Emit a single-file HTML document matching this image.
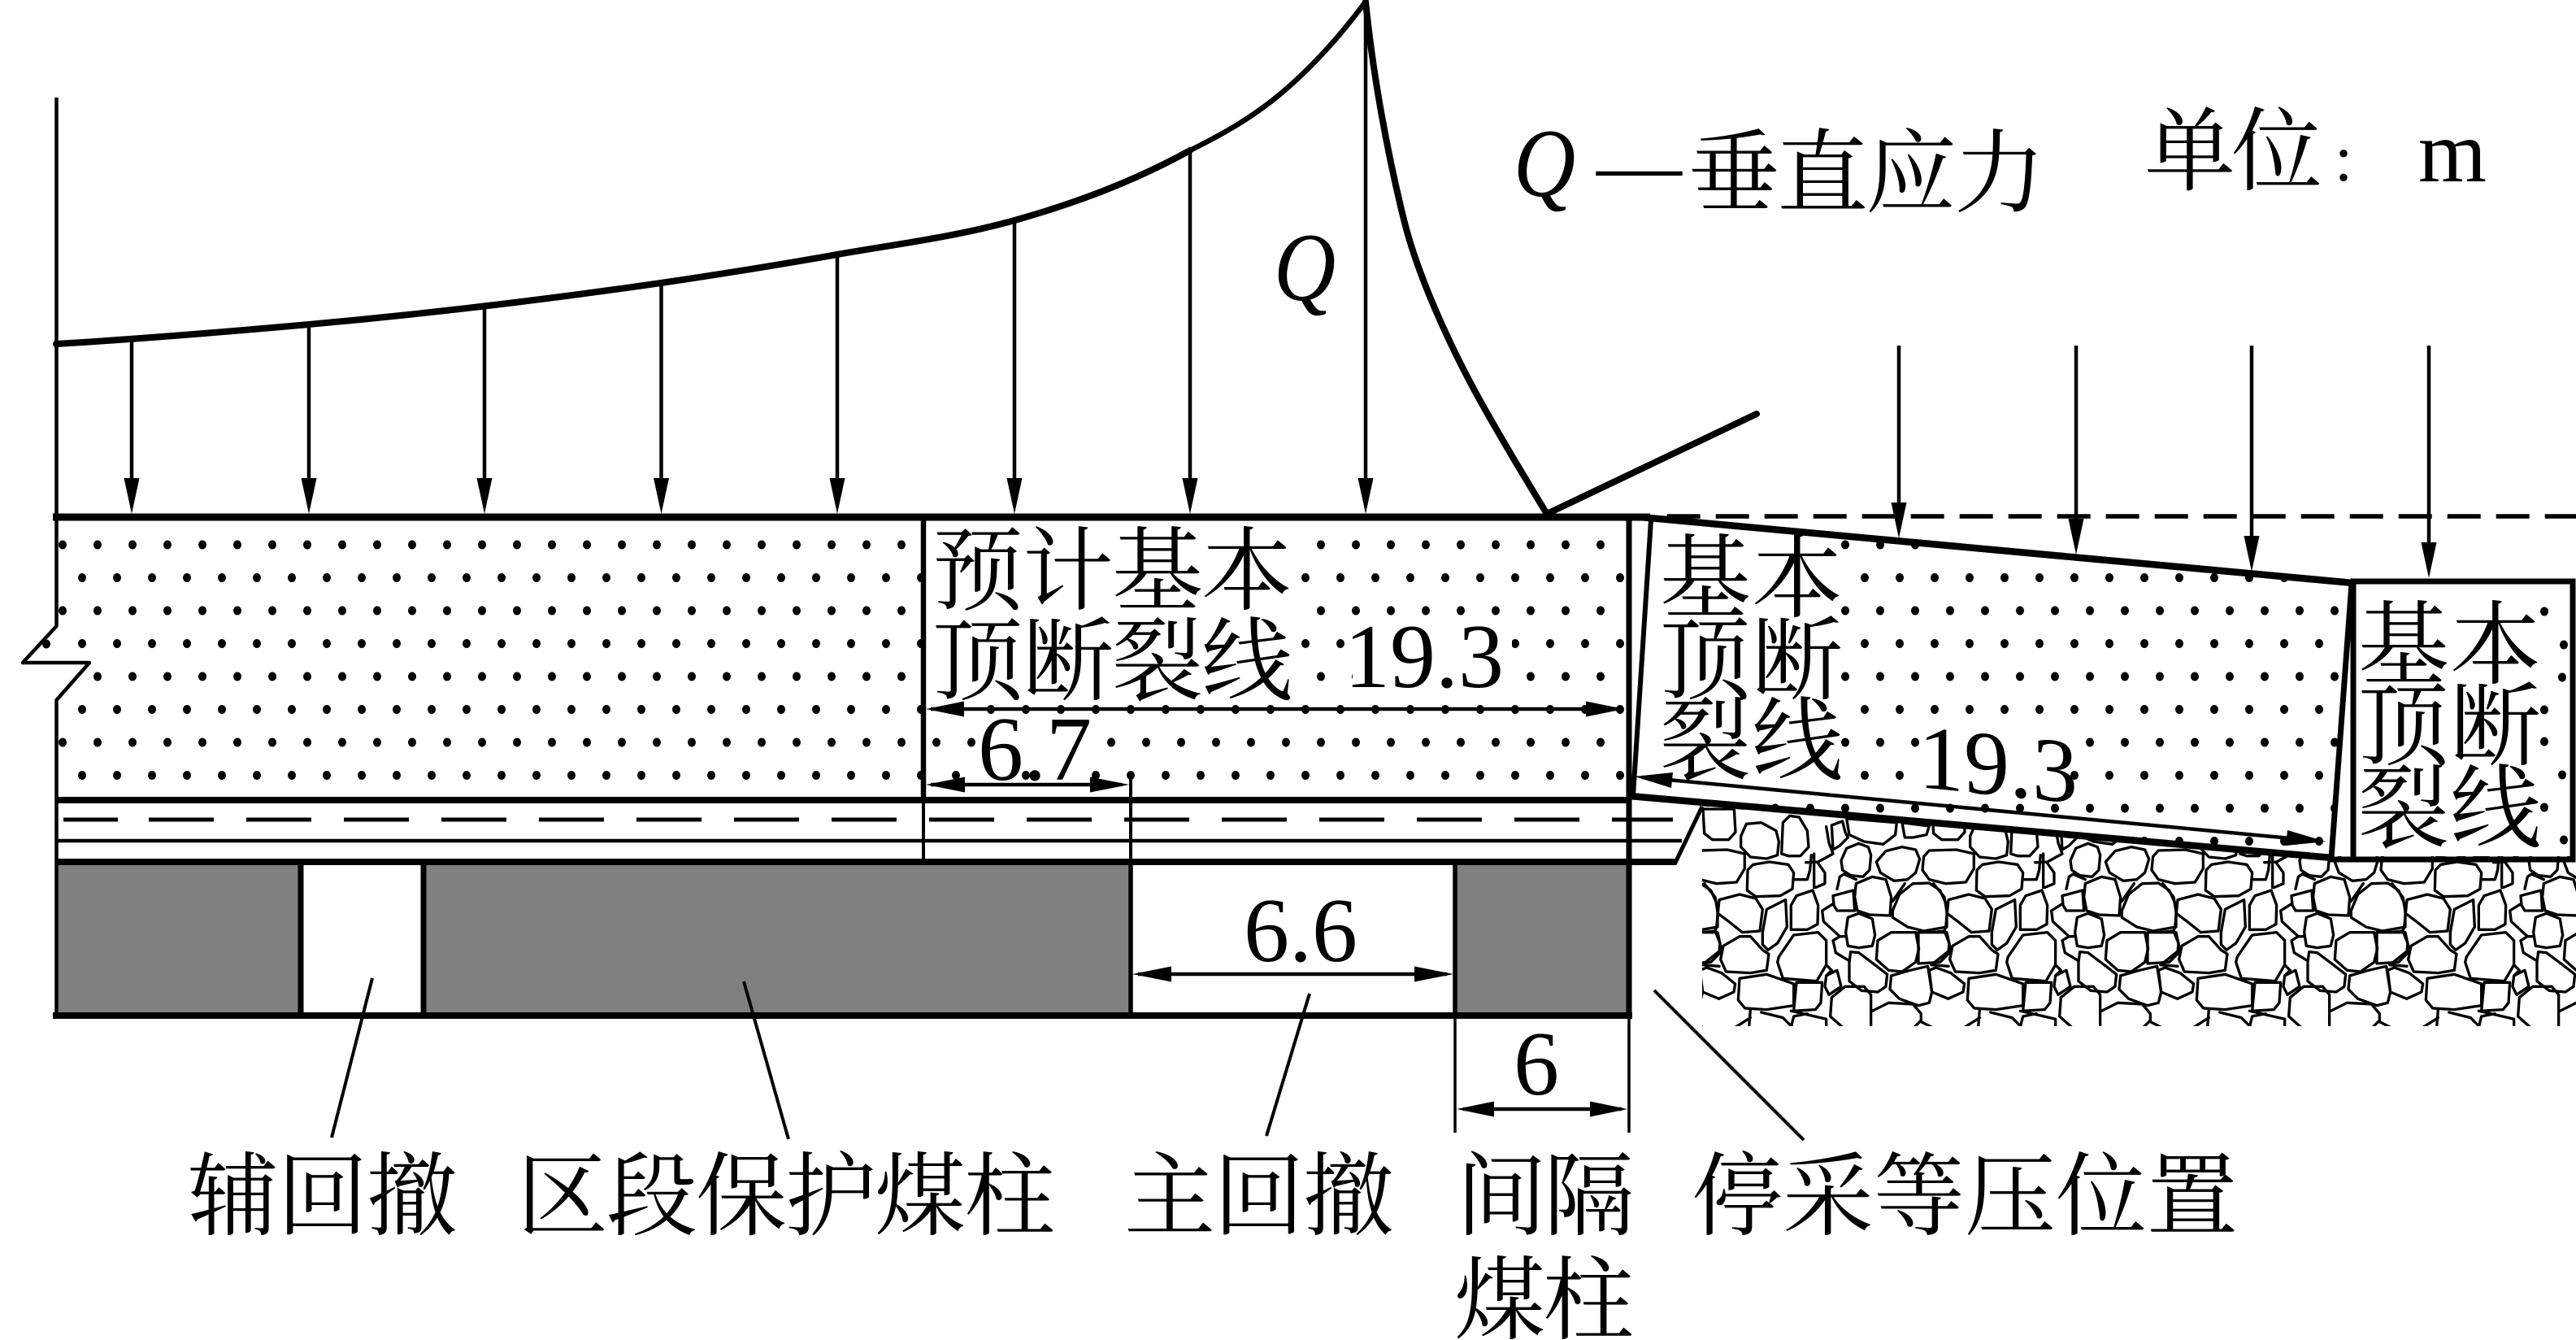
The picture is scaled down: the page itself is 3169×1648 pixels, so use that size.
<!DOCTYPE html>
<html><head><meta charset="utf-8">
<style>
html,body{margin:0;padding:0;background:#fff}
svg{display:block}
.c{font-family:"Liberation Serif","Noto Serif CJK SC",serif;font-size:112px;fill:#000}
.n{font-family:"Liberation Serif",serif;font-size:112px;fill:#000}
.q{font-family:"Liberation Serif",serif;font-style:italic;font-size:110px;fill:#000}
</style></head><body>
<svg xmlns="http://www.w3.org/2000/svg" width="3169" height="1648" viewBox="0 0 3169 1648">
<defs>
<pattern id="dots" patternUnits="userSpaceOnUse" x="65" y="660" width="43" height="81">
<ellipse cx="12" cy="10" rx="5" ry="5.5"/><ellipse cx="36" cy="50.5" rx="5" ry="5.5"/>
</pattern>
<clipPath id="blk2"><polygon points="2030,640 2895,715 2871,1058 2007,984"/></clipPath>
<clipPath id="grav"><polygon points="2094,985 2869,1053 3169,1053 3169,1262 2094,1262"/></clipPath>
<g id="tile" fill="none" stroke="#000" stroke-width="10" stroke-linejoin="round" stroke-linecap="round">
<polygon points="15,45 130,45 135,130 110,158 50,158 20,135"/>
<polygon points="155,145 175,100 230,95 285,125 295,165 290,215 250,228 190,222 155,185"/>
<polygon points="305,210 310,95 335,70 370,75 400,125 405,185 375,218 330,218"/>
<polygon points="490,105 530,90 540,130 550,150 520,180 495,195"/>
<polygon points="545,80 730,95 725,140 680,175 610,165 555,140"/>
<polygon points="750,95 850,108 840,140 790,150 760,150"/>
<polygon points="525,235 545,190 590,172 625,185 635,215 630,270 605,295 560,290 530,270"/>
<polygon points="655,240 690,200 750,185 800,195 815,230 800,280 770,305 720,310 670,280"/>
<polygon points="830,220 850,198 950,195 1015,210 1015,265 985,315 910,320 850,305 825,270"/>
<polygon points="180,270 200,250 260,240 330,250 350,280 345,340 300,365 210,368 178,345"/>
<polyline points="355,305 400,305 410,270 415,215"/>
<polyline points="395,242 440,240 495,210 480,170 470,110"/>
<polyline points="425,210 425,335"/>
<polyline points="440,245 465,280 465,320 430,335"/>
<polyline points="510,340 520,295 535,285 580,305"/>
<polygon points="495,365 570,345 575,420 510,420 498,400"/>
<polygon points="580,320 640,295 690,305 710,370 705,438 630,435 585,420 575,370"/>
<polygon points="715,420 740,360 790,320 850,318 890,345 915,400 915,480 830,495 770,480 715,445"/>
<polyline points="715,385 760,320"/>
<polygon points="75,380 150,360 210,375 235,415 225,495 160,500 110,460 70,430"/>
<polygon points="235,500 250,415 320,380 325,480 290,540 255,565 235,545"/>
<polygon points="340,400 360,365 420,345 440,400 438,470 400,490 340,490"/>
<polygon points="550,445 590,430 640,450 650,510 640,550 590,557 550,550 542,500"/>
<polyline points="495,395 455,420 460,460 520,515 540,515"/>
<polygon points="660,530 710,500 800,500 812,560 800,610 750,645 700,640 655,600"/>
<polygon points="810,500 915,500 930,570 890,610 810,615"/>
<polygon points="90,550 150,515 190,515 235,565 258,580 250,640 190,650 100,645 80,600"/>
<polygon points="295,590 350,510 440,500 470,530 470,620 435,680 310,670 290,610"/>
<polygon points="555,610 560,572 590,575 650,620 695,655 690,700 660,720 600,715 555,680"/>
<polyline points="520,515 495,530 505,575 555,605"/>
<polygon points="150,670 250,655 350,690 350,770 250,785 170,780 145,750"/>
<polygon points="360,685 455,685 450,760 430,785 350,790"/>
<polygon points="470,660 510,640 525,700 480,730 465,700"/>
<polygon points="710,660 780,640 845,625 860,720 850,760 810,770 740,745 705,710"/>
<polygon points="850,640 875,630 930,650 980,690 975,720 920,745 860,720"/>
<polyline points="635,850 635,730 610,700 540,700 490,740 485,810 530,850"/>
<polyline points="640,790 700,760 790,765 820,800 820,830 860,850"/>
<polyline points="820,825 795,850"/>
<polyline points="12,620 75,625"/>
<polyline points="12,500 60,495 78,540 75,570 12,620"/>
<polyline points="20,320 60,370 70,430 65,480 60,495"/>
<polyline points="190,785 185,850"/>
<polyline points="135,850 190,815"/>
<polyline points="230,795 310,815 345,850"/>
<polyline points="340,790 470,820 470,850"/>
<polyline points="340,850 350,810 400,800"/>
<polyline points="470,620 490,640 470,660"/>
</g>
</defs>
<rect width="3169" height="1648" fill="#fff"/>

<!-- dots -->
<rect x="72" y="640" width="1930" height="341" fill="url(#dots)"/>
<ellipse cx="57" cy="792" rx="5" ry="5.5"/>
<rect x="72" y="818" width="38" height="30" fill="#fff"/>
<rect x="1140" y="640" width="457" height="226" fill="#fff"/>
<rect x="1655" y="775" width="205" height="30" fill="#fff"/>
<rect x="1664" y="815" width="198" height="32" fill="#fff"/>
<rect x="1200" y="895" width="160" height="32" fill="#fff"/>
<rect x="1205" y="938" width="40" height="26" fill="#fff"/>
<rect x="1285" y="938" width="45" height="26" fill="#fff"/>
<rect x="2000" y="640" width="8" height="345" fill="#fff"/>
<g clip-path="url(#blk2)">
<rect x="2000" y="640" width="900" height="420" fill="url(#dots)"/>
<rect x="2000" y="640" width="262" height="334" fill="#fff"/>
<rect x="2375" y="900" width="178" height="28" fill="#fff"/>
<rect x="2360" y="940" width="175" height="28" fill="#fff"/>
</g>
<g>
<ellipse cx="3130" cy="752" rx="5" ry="5.5"/><ellipse cx="3154" cy="793" rx="5" ry="5.5"/>
<ellipse cx="3152" cy="833" rx="5" ry="5.5"/><ellipse cx="3130" cy="873" rx="5" ry="5.5"/>
<ellipse cx="3130" cy="912" rx="5" ry="5.5"/><ellipse cx="3152" cy="953" rx="5" ry="5.5"/>
<ellipse cx="3130" cy="993" rx="5" ry="5.5"/><ellipse cx="3154" cy="1033" rx="5" ry="5.5"/>
</g>

<!-- gravel -->
<g clip-path="url(#grav)">
<use href="#tile" transform="translate(1808,980) scale(.3333)"/>
<use href="#tile" transform="translate(2090,980) scale(.3333)"/>
<use href="#tile" transform="translate(2372,980) scale(.3333)"/>
<use href="#tile" transform="translate(2654,980) scale(.3333)"/>
<use href="#tile" transform="translate(2936,980) scale(.3333)"/>
</g>

<!-- gray pillars -->
<rect x="69" y="1060" width="301" height="189" fill="#808080"/>
<rect x="521" y="1060" width="870" height="189" fill="#808080"/>
<rect x="1790" y="1060" width="214" height="189" fill="#808080"/>

<!-- stress curve -->
<g fill="none" stroke="#000" stroke-linecap="round" stroke-linejoin="round">
<path stroke-width="8" d="M69,423 C172.7,416.8 276.3,408.3 380,399 C524,386 669,368.9 813,348 C885,337.5 958,325.6 1030,313 C1103,300.2 1175,291.4 1248,271 C1320,250.8 1392,224.6 1464,185"/>
<path stroke-width="6.5" d="M1464,185 C1502,166 1539,146 1577,114 C1611,85 1646,48 1680,2"/>
<path stroke-width="8" d="M1680,2 C1689,92 1707,190 1728,274 C1737,309 1750,344 1765,379 C1780,414 1797,449 1816,484 C1843,533 1873,583 1903,632"/>
<path stroke-width="8" d="M1903,632 L2161,509"/>
</g>

<!-- main lines -->
<g stroke="#000" fill="none">
<line x1="69.5" y1="120" x2="69.5" y2="638" stroke-width="4.5"/>
<line x1="65" y1="636" x2="2030" y2="636" stroke-width="9"/>
<polyline points="69.5,636 69.5,770 28,815 110,815 69.5,861 69.5,1249" stroke-width="4.5" stroke-linejoin="round"/>
<line x1="69" y1="984" x2="2007" y2="984" stroke-width="8"/>
<line x1="78" y1="1008" x2="145" y2="1008" stroke-width="5"/>
<line x1="183" y1="1008" x2="2058" y2="1008" stroke-width="5" stroke-dasharray="80 40"/>
<line x1="69" y1="1034" x2="2069" y2="1034" stroke-width="4.5"/>
<line x1="69" y1="1060" x2="2062" y2="1060" stroke-width="8"/>
<polyline points="2060,1063 2094,992" stroke-width="5"/>
<line x1="65" y1="1249" x2="2008" y2="1249" stroke-width="8"/>
<line x1="370" y1="1060" x2="370" y2="1249" stroke-width="7"/>
<line x1="521" y1="1060" x2="521" y2="1249" stroke-width="7"/>
<line x1="1136" y1="636" x2="1136" y2="984" stroke-width="6.5"/>
<line x1="1136" y1="984" x2="1136" y2="1060" stroke-width="4"/>
<line x1="1391" y1="952" x2="1391" y2="1060" stroke-width="4"/>
<line x1="1391" y1="1060" x2="1391" y2="1249" stroke-width="5.5"/>
<line x1="1790" y1="1060" x2="1790" y2="1249" stroke-width="5.5"/>
<line x1="2004" y1="636" x2="2004" y2="1249" stroke-width="7"/>
<line x1="1790" y1="1249" x2="1790" y2="1393" stroke-width="3.5"/>
<line x1="2004" y1="1249" x2="2004" y2="1393" stroke-width="3.5"/>
<!-- tilted block -->
<line x1="2018" y1="636" x2="2895" y2="717" stroke-width="8.5"/>
<line x1="2031" y1="640" x2="2009" y2="979" stroke-width="6"/>
<line x1="2005" y1="979" x2="2869" y2="1055" stroke-width="8.5"/>
<line x1="2893" y1="718" x2="2868" y2="1055" stroke-width="7"/>
<!-- right block -->
<rect x="2895" y="715" width="270" height="342" stroke-width="7"/>
<line x1="2865" y1="1057" x2="2900" y2="1057" stroke-width="7"/>
<!-- dashed -->
<line x1="2050.7" y1="635" x2="3169" y2="635" stroke-width="5.5" stroke-dasharray="41 19"/>
<!-- leaders -->
<g stroke-width="4">
<line x1="458" y1="1203" x2="408" y2="1399"/>
<line x1="915" y1="1207" x2="970" y2="1401"/>
<line x1="1611" y1="1222" x2="1558" y2="1397"/>
<line x1="2035" y1="1218" x2="2219" y2="1402"/>
</g>
<!-- load arrow shafts -->
<g stroke-width="4.5">
<line x1="162" y1="416" x2="162" y2="600"/>
<line x1="380" y1="399" x2="380" y2="600"/>
<line x1="596" y1="375" x2="596" y2="600"/>
<line x1="813.5" y1="348" x2="813.5" y2="600"/>
<line x1="1030" y1="313" x2="1030" y2="600"/>
<line x1="1248" y1="271" x2="1248" y2="600"/>
<line x1="1464" y1="185" x2="1464" y2="600"/>
<line x1="1680" y1="2" x2="1680" y2="600"/>
<line x1="2336" y1="425" x2="2336" y2="630"/>
<line x1="2554" y1="425" x2="2554" y2="650"/>
<line x1="2770" y1="425" x2="2770" y2="670"/>
<line x1="2988" y1="425" x2="2988" y2="680"/>
</g>
<!-- dimension shafts -->
<g stroke-width="4.5">
<line x1="1145" y1="872" x2="1990" y2="872"/>
<line x1="1145" y1="965" x2="1380" y2="965"/>
<line x1="1400" y1="1198" x2="1780" y2="1198"/>
<line x1="1800" y1="1364" x2="1995" y2="1364"/>
<line x1="2020" y1="956" x2="2850" y2="1034"/>
</g>
</g>

<!-- arrowheads -->
<g fill="#000">
<polygon points="152.5,588 171.5,588 162,632"/>
<polygon points="370.5,588 389.5,588 380,632"/>
<polygon points="586.5,588 605.5,588 596,632"/>
<polygon points="804,588 823,588 813.5,632"/>
<polygon points="1020.5,588 1039.5,588 1030,632"/>
<polygon points="1238.5,588 1257.5,588 1248,632"/>
<polygon points="1454.5,588 1473.5,588 1464,632"/>
<polygon points="1670.5,588 1689.5,588 1680,632"/>
<polygon points="2326.5,618 2345.5,618 2336,662"/>
<polygon points="2544.5,638 2563.5,638 2554,682"/>
<polygon points="2760.5,659 2779.5,659 2770,703"/>
<polygon points="2978.5,667 2997.5,667 2988,711"/>
<polygon points="1139,872 1186,862.5 1186,881.5"/>
<polygon points="1998,872 1951,862.5 1951,881.5"/>
<polygon points="1139,965 1187,955.5 1187,974.5"/>
<polygon points="1389,965 1341,955.5 1341,974.5"/>
<polygon points="1393,1198 1441,1188.5 1441,1207.5"/>
<polygon points="1788,1198 1740,1188.5 1740,1207.5"/>
<polygon points="1792,1364 1838,1354.5 1838,1373.5"/>
<polygon points="2002,1364 1956,1354.5 1956,1373.5"/>
<polygon points="2011,955 2058,950 2056,969"/>
<polygon points="2861,1035 2814,1021 2812,1040"/>
</g>

<!-- text -->
<text class="q" transform="matrix(.96 0 0 1.09 1567 369)">Q</text>
<text class="q" transform="matrix(.96 0 0 1.09 1862 241)">Q</text>
<text class="n" x="1964" y="238" style="font-size:105px">—</text>
<text class="c" x="2077 2186 2295 2404" y="252">垂直应力</text>
<text class="c" x="2638 2745" y="225">单位</text>
<text class="n" x="2872" y="222" style="font-size:80px">:</text>
<text class="n" x="2975" y="223" style="font-size:108px">m</text>

<text class="c" x="1147 1258 1368 1478" y="741">预计基本</text>
<text class="c" x="1147 1258 1368 1478" y="852">顶断裂线</text>
<text class="n" x="1654" y="845">19.3</text>
<text class="n" x="1203" y="959">6.7</text>
<text class="n" x="1530" y="1182">6.6</text>
<text class="n" x="1862" y="1346">6</text>
<text class="n" transform="matrix(1 .1 0 1 2360 968)" x="0" y="0">19.3</text>

<text class="c" x="2042 2155" y="750">基本</text>
<text class="c" x="2042 2155" y="851">顶断</text>
<text class="c" x="2042 2155" y="950">裂线</text>
<text class="c" x="2901 3014" y="832">基本</text>
<text class="c" x="2901 3014" y="932">顶断</text>
<text class="c" x="2901 3014" y="1033">裂线</text>

<text class="c" x="231 341 451" y="1510">辅回撤</text>
<text class="c" x="636 746 856 966 1076 1186" y="1510">区段保护煤柱</text>
<text class="c" x="1383 1493 1603" y="1510">主回撤</text>
<text class="c" x="1791 1899" y="1510">间隔</text>
<text class="c" x="1789 1898" y="1638">煤柱</text>
<text class="c" x="2081 2193 2305 2417 2529 2641" y="1510">停采等压位置</text>
</svg>
</body></html>
